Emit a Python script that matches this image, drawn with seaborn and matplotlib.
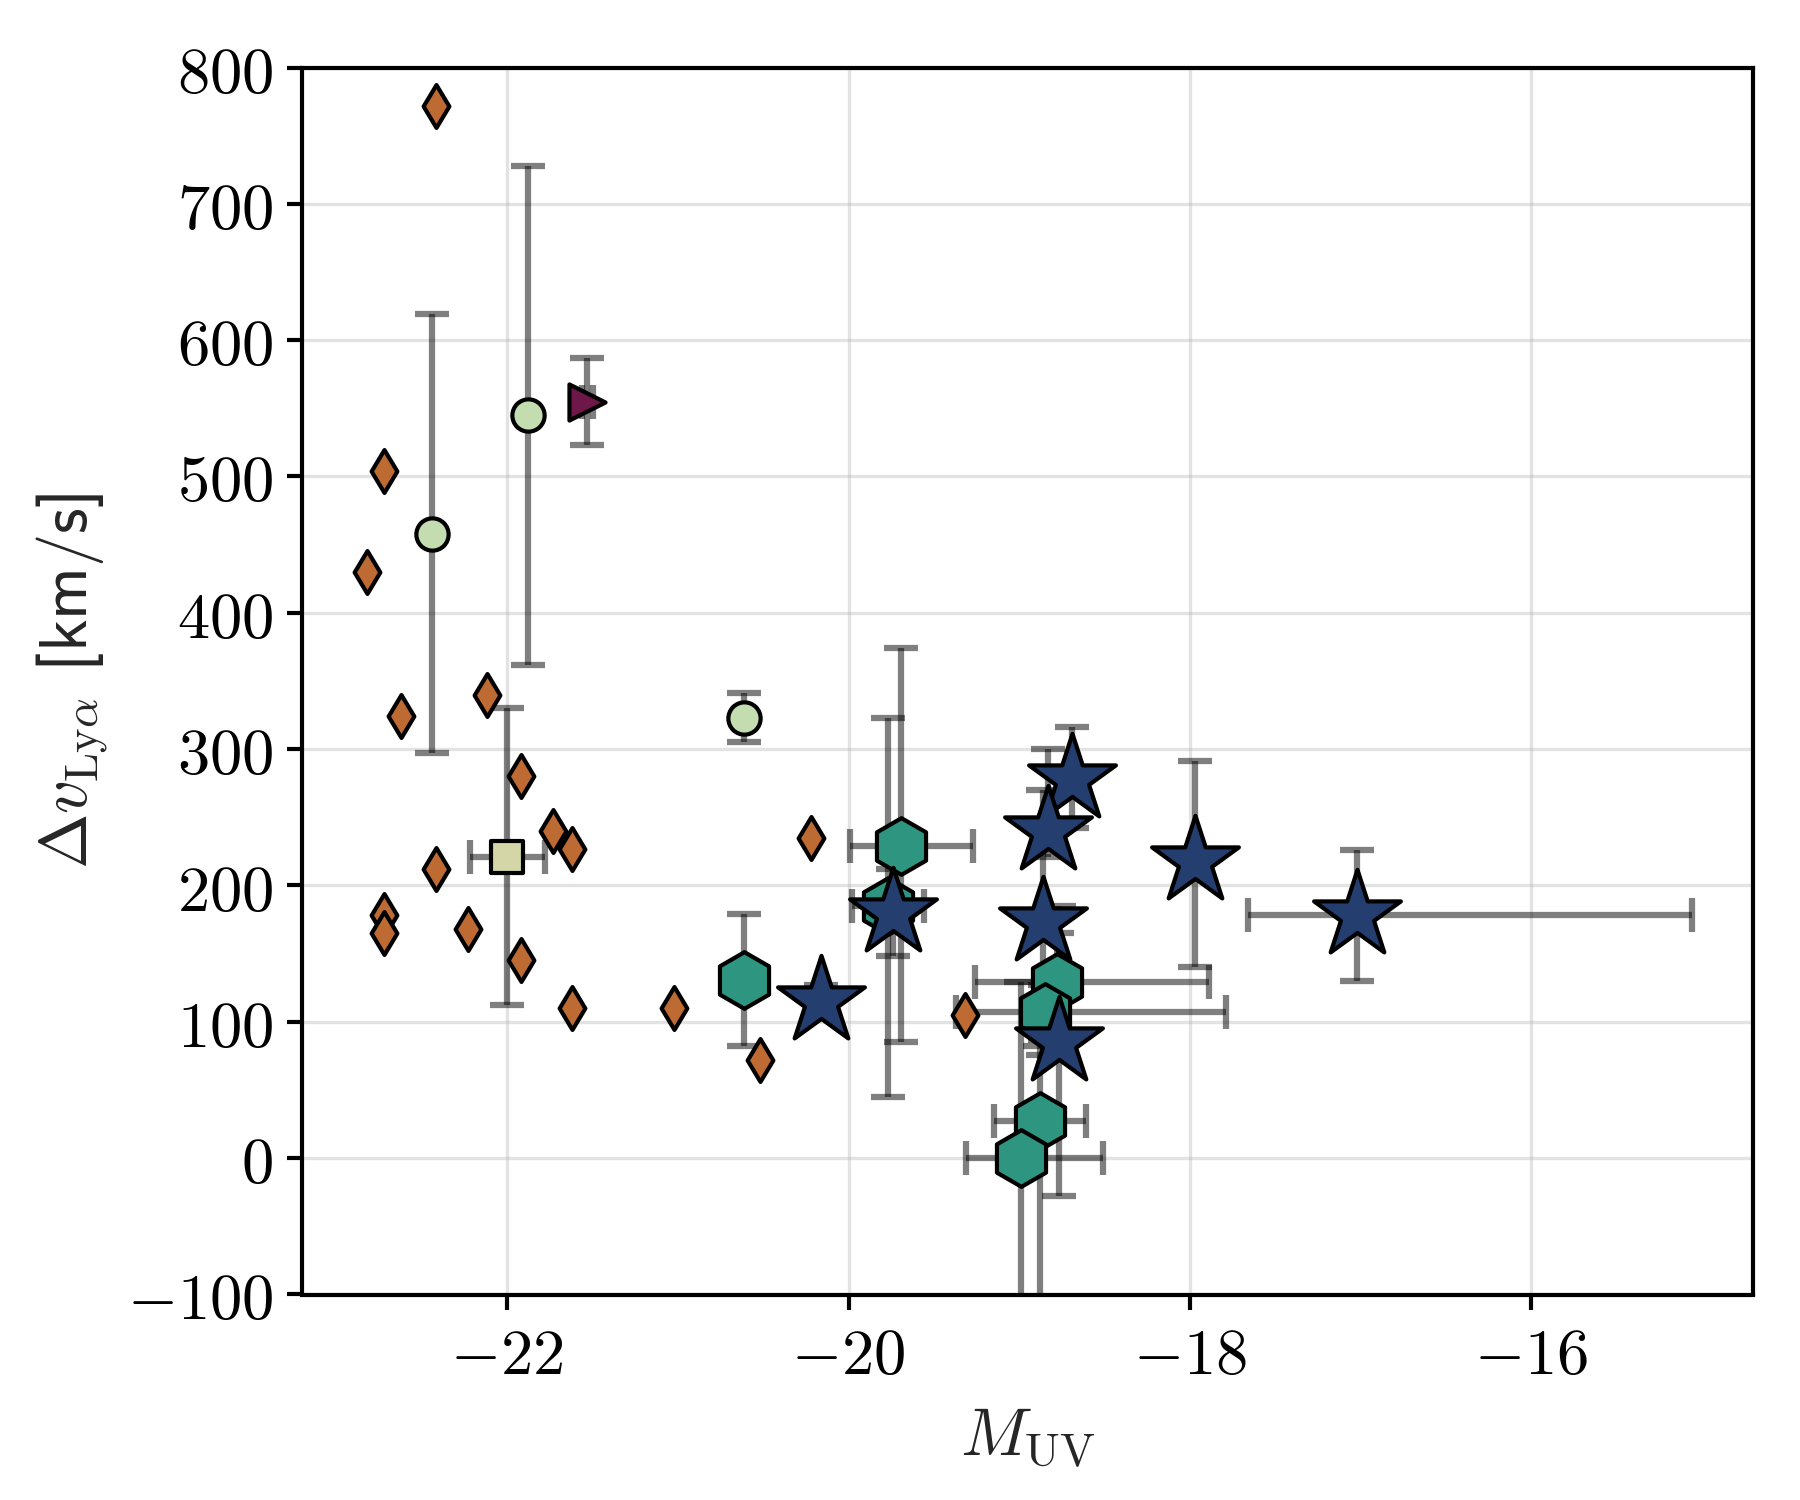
import matplotlib
matplotlib.use("Agg")
import matplotlib.pyplot as plt
from matplotlib.ticker import FuncFormatter
import numpy as np
import pandas as pd
import seaborn as sns

# ---------------- data ----------------
# orange diamonds (no errors)
dia_M = [-22.42, -22.72, -22.82, -22.62, -22.12, -21.92, -21.73, -21.62, -22.42,
         -22.72, -22.72, -22.23, -21.92, -21.62, -21.02, -20.22, -20.52, -19.32]
dia_v = [772, 504, 430, 324, 340, 280, 240, 227, 212,
         178, 165, 168, 145, 110, 110, 235, 72, 105]

# light green circles
cir_M = [-22.44, -21.88, -20.61]
cir_v = [458, 545, 323]
cir_verr = [161, 183, 18]

# square
sq_M = [-22.0]
sq_v = [221]
sq_xerr = [0.22]
sq_verr = [109]

# right triangle
tri_M = [-21.53]
tri_v = [555]
tri_xerr = [0.03]
tri_verr = [32]

# teal hexagons
hex_M = [-20.61, -19.69, -19.77, -18.78, -18.85, -18.88, -18.99]
hex_v = [131, 229, 185, 129, 107, 27, 0]
hex_xlo = [0.0, 0.30, 0.21, 0.48, 0.52, 0.27, 0.32]
hex_xhi = [0.0, 0.42, 0.21, 0.89, 1.06, 0.27, 0.48]
hex_vlo = [49, 144, 140, 36, 20, 160, 160]
hex_vhi = [48, 145, 138, 36, 20, 55, 129]

# navy stars
star_M = [-20.16, -19.74, -18.69, -18.83, -18.86, -18.77, -17.97, -17.02]
star_v = [115, 180, 278, 240, 173, 85, 218, 178]
star_xlo = [0, 0, 0, 0, 0, 0, 0, 0.64]
star_xhi = [0, 0, 0, 0, 0, 0, 0, 1.96]
star_vlo = [12, 32, 36, 19, 97, 113, 78, 48]
star_vhi = [12, 32, 38, 60, 97, 100, 73, 48]

x_ticks = [-22, -20, -18, -16]
y_ticks = [-100, 0, 100, 200, 300, 400, 500, 600, 700, 800]

# ---------------- style ----------------
sns.set_style("ticks")
plt.rcParams["font.family"] = ["DejaVu Sans"]
plt.rcParams["mathtext.fontset"] = "cm"
plt.rcParams["axes.linewidth"] = 1.0
plt.rcParams["xtick.major.width"] = 1.0
plt.rcParams["ytick.major.width"] = 1.0
plt.rcParams["xtick.major.size"] = 3.5
plt.rcParams["ytick.major.size"] = 3.5
plt.rcParams["xtick.color"] = "black"
plt.rcParams["ytick.color"] = "black"
plt.rcParams["axes.edgecolor"] = "black"

fig = plt.figure(figsize=(6, 5), dpi=300)
ax = fig.add_axes([0.168, 0.137, 0.806, 0.818])

eb_kw = dict(fmt="none", ecolor="k", alpha=0.5, elinewidth=1.5,
             capsize=4, capthick=1.5, zorder=1)

groups = [
    dict(M=dia_M, v=dia_v, xerr=None, yerr=None, marker="d", s=53, color="#BE6A33"),
    dict(M=cir_M, v=cir_v, xerr=None, yerr=cir_verr, marker="o", s=60, color="#C3DCB0"),
    dict(M=sq_M, v=sq_v, xerr=sq_xerr, yerr=sq_verr, marker="s", s=56, color="#D4D6A7"),
    dict(M=tri_M, v=tri_v, xerr=tri_xerr, yerr=tri_verr, marker=">", s=75, color="#6D1848"),
    dict(M=hex_M, v=hex_v, xerr=[hex_xlo, hex_xhi], yerr=[hex_vlo, hex_vhi],
         marker="h", s=185, color="#2E9680"),
    dict(M=star_M, v=star_v, xerr=[star_xlo, star_xhi], yerr=[star_vlo, star_vhi],
         marker="*", s=480, color="#233E6F"),
]

for g in groups:
    if g["xerr"] is not None or g["yerr"] is not None:
        ax.errorbar(g["M"], g["v"], xerr=g["xerr"], yerr=g["yerr"], **eb_kw)

for i, g in enumerate(groups):
    df = pd.DataFrame({"M": g["M"], "v": g["v"]})
    sns.scatterplot(data=df, x="M", y="v", marker=g["marker"], s=g["s"],
                    color=g["color"], edgecolor="black", linewidth=1.0,
                    zorder=3 + i, ax=ax, legend=False)

ax.set_xlim(-23.2, -14.7)
ax.set_ylim(-100, 800)
ax.set_xticks(x_ticks)
ax.set_yticks(y_ticks)
fmt = FuncFormatter(lambda val, pos: r"$%d$" % round(val))
ax.xaxis.set_major_formatter(fmt)
ax.yaxis.set_major_formatter(fmt)
ax.tick_params(labelsize=15.5)
ax.grid(True, color="#b0b0b0", alpha=0.35, linewidth=0.8, zorder=0)
ax.set_axisbelow(True)

ax.set_xlabel(r"$M_{\rm UV}$", fontsize=16)
ax.set_ylabel(r"$\Delta v_{\rm Ly\alpha}$ [km/s]", fontsize=16,
              family=["cmss10", "DejaVu Sans"])

fig.savefig("out.png", dpi=300)
